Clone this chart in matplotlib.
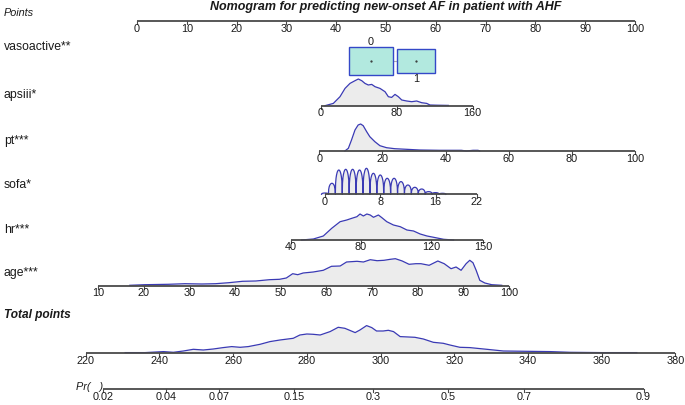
import numpy as np
import matplotlib
matplotlib.use('Agg')
import matplotlib.pyplot as plt
from matplotlib.patches import Rectangle

plt.rcParams['font.family'] = ['Liberation Sans', 'DejaVu Sans']

title = 'Nomogram for predicting new-onset AF in patient with AHF'

# the 0-100 "Points" scale, placed on the page (pixel x of 0 and px per point)
PX0 = 137.0
PX_PER_PT = 4.98

points_ticks = list(range(0, 101, 10))

# vasoactive: categorical, box size ~ frequency
vaso_levels = ['0', '1']
vaso_points = [46.95, 56.02]
vaso_freq = [0.576, 0.424]

# continuous predictors: ticks, points at first/last tick, density
apsiii_ticks = [0, 80, 160]
apsiii_pts = (36.89, 67.41)
apsiii_vals = [4.5, 13.3, 20.3, 25.6, 30.8, 36.1, 39.6, 43.2, 46.6, 50.1, 53.7, 57.2, 62.4, 67.7,
               71.2, 74.7, 78.2, 81.7, 85.3, 90.5, 95.8, 101.0, 106.3, 111.6, 115.0, 122.1, 134.3]
apsiii_dens = [0, 2.3, 9, 17.3, 22.3, 25, 26.7, 25, 22.3, 20.7, 21.3, 19, 17.3, 14,
               9, 8.3, 11.3, 9, 5.7, 4.7, 4, 4.7, 3, 2.3, 0.7, 0.5, 0.3]

pt_ticks = [0, 20, 40, 60, 80, 100]
pt_pts = (36.61, 100.0)
pt_vals = [8.1, 9.2, 10.2, 11.3, 12.3, 13.1, 13.9, 15.0, 16.0, 17.6, 19.2, 21.3, 23.9, 27.6,
           31.8, 38.1, 45.0, 46.6, 48.7, 50.3, 50.8]
pt_dens = [0, 2.7, 11, 21, 26, 27, 25.3, 19.3, 14.3, 9.3, 5.3, 3.3, 2.3, 1.7,
           1, 0.7, 0.7, 0, 0.7, 0.7, 0]

sofa_ticks = [0, 8, 16, 22]
sofa_pts = (37.75, 68.27)
sofa_levels = list(range(0, 18))
sofa_dens = [1.3, 11, 24.3, 25, 25, 24.3, 26, 21, 19.3, 16, 16, 12.7, 9.3, 7, 5.3, 2.7, 1.7, 1]

hr_ticks = [40, 80, 120, 150]
hr_pts = (30.92, 69.54)
hr_vals = [46.1, 52.8, 58.5, 63.3, 68.1, 71.9, 74.8, 77.7, 79.5, 81.4, 83.4, 85.3, 87.2, 90.0,
           92.0, 94.8, 98.6, 102.5, 106.3, 110.1, 113.9, 117.8, 121.6, 127.3, 133.0]
hr_dens = [0, 1, 4, 11.7, 18.3, 20, 21.7, 23.3, 26, 24, 26, 25, 22.7, 25,
           22.3, 18.3, 15, 13.3, 10, 9, 6, 4, 2.7, 0.7, 0]

age_ticks = list(range(10, 101, 10))
age_pts = (-7.77, 74.70)
age_vals = [16.9, 20.2, 25.3, 29.0, 32.7, 35.7, 38.6, 41.6, 44.5, 47.5, 49.7, 51.2, 52.6, 53.7,
            54.9, 57.1, 59.3, 61.1, 63.0, 64.4, 66.7, 68.1, 69.6, 71.1, 72.6, 74.0, 75.1, 76.6,
            78.1, 79.6, 80.7, 82.5, 84.4, 85.8, 87.3, 88.4, 89.5, 90.6, 91.4, 92.1, 92.8, 93.6,
            94.7, 96.2, 98.4]
age_dens = [0.7, 1.3, 1.7, 2.3, 2, 2.3, 3.3, 4.7, 5, 6.3, 6.7, 8, 12.3, 11.3,
            13, 14, 15.7, 19.7, 20, 24, 24.7, 24, 26.3, 25.3, 25.7, 26.7, 27.3, 25,
            21.7, 22.3, 22.3, 20.7, 25, 22.3, 17.3, 19, 15.7, 22.3, 25.7, 23.3, 15.7, 5.7,
            3, 1.3, 0.7]

total_ticks = list(range(220, 381, 20))
total_pts = (-10.30, 108.13)
total_vals = [230.7, 236.1, 241.1, 243.8, 246.5, 249.2, 251.9, 254.6, 257.3, 259.6, 261.9, 264.1,
              267.3, 270.0, 272.7, 276.3, 278.1, 280.0, 281.7, 283.6, 286.3, 288.5, 290.3, 293.1,
              294.4, 296.2, 297.6, 298.9, 300.7, 302.1, 303.5, 305.3, 309.3, 311.6, 314.3, 317.0,
              318.8, 321.5, 324.2, 328.8, 333.3, 346.0, 351.4, 360.0, 363.1, 369.5]
total_dens = [0.7, 0.7, 1.7, 1, 2.3, 4, 3.3, 4.3, 5.7, 6.7, 6, 6.7,
              9, 11.7, 13.3, 15, 18.3, 19.3, 19, 18.3, 21.7, 26, 25, 20.7,
              23.3, 27.7, 25.7, 22.3, 22.3, 23, 21.7, 16.7, 16, 14.3, 11, 10,
              8.3, 6, 5.7, 4, 2.3, 1.7, 1, 0.7, 0.7, 0.7]

# probability: logit is linear in total points
pr_ticks = [0.02, 0.04, 0.07, 0.15, 0.3, 0.5, 0.7, 0.9]
pr_mid_total = 318.4     # total points at Pr = 0.5
pr_total_per_logit = 24.09

BLUE = '#3a3ab4'
FILL = '#ececec'
AXC = '#4a4a4a'
TXT = '#1a1a1a'
TICK_FS = 7.8
LAB_FS = 8.8


def lin(v0, v1, p0, p1):
    return lambda v: p0 + (np.asarray(v, float) - v0) * (p1 - p0) / (v1 - v0)


def draw_axis(ax, ticks, to_pts, base, labels=None):
    xs = to_pts(ticks)
    if labels is None:
        labels = [str(t) for t in ticks]
    ax.plot([xs[0], xs[-1]], [base, base], color=AXC, lw=1.3, solid_capstyle='butt', zorder=3)
    for x, lab in zip(xs, labels):
        ax.plot([x, x], [base, base + 3], color=AXC, lw=0.8, zorder=3)
        ax.text(x, base + 2.5, lab, ha='center', va='top', fontsize=TICK_FS, color=TXT)


def draw_density(ax, vals, dens, to_pts, base):
    xs = to_pts(vals)
    ys = base - np.asarray(dens, float)
    ax.fill_between(xs, base, ys, color=FILL, lw=0, zorder=1)
    ax.plot(xs, ys, color=BLUE, lw=0.9, zorder=2)


def row_label(ax, y, text, **kw):
    ax.text(4 / 685, y, text, transform=ax.get_yaxis_transform(), ha='left', va='center',
            color=TXT, **kw)


fig = plt.figure(figsize=(6.85, 4.05), dpi=100)
ax = fig.add_axes([0, 0, 1, 1])
ax.set_xlim(-PX0 / PX_PER_PT, (685 - PX0) / PX_PER_PT)
ax.set_ylim(405, 0)
ax.axis('off')

ax.text(50, 7, title, ha='center', va='center', fontsize=9.0, fontweight='bold',
        fontstyle='italic', color=TXT)

# Points
row_label(ax, 13, 'Points', fontsize=7.8, fontstyle='italic')
draw_axis(ax, points_ticks, lambda v: np.asarray(v, float), 21)

# vasoactive
row_label(ax, 47, 'vasoactive**', fontsize=LAB_FS)
yc = 61
ax.plot(vaso_points, [yc, yc], color='#b0b0b0', lw=0.8, zorder=1)
for i, (lev, p, f) in enumerate(zip(vaso_levels, vaso_points, vaso_freq)):
    w = 57.6 * np.sqrt(f) / PX_PER_PT
    h = 36.5 * np.sqrt(f)
    ax.add_patch(Rectangle((p - w / 2, yc - h / 2), w, h, facecolor='#b2e9df',
                           edgecolor='#3448c8', lw=1.0, zorder=2))
    ax.plot(p, yc, marker='.', ms=1.2, color='#333333', zorder=3)
    if i == 0:
        ax.text(p, yc - h / 2 - 0.5, lev, ha='center', va='bottom', fontsize=TICK_FS, color=TXT)
    else:
        ax.text(p, yc + h / 2 + 1, lev, ha='center', va='top', fontsize=TICK_FS, color=TXT)

# apsiii
row_label(ax, 95, 'apsiii*', fontsize=LAB_FS)
f_aps = lin(apsiii_ticks[0], apsiii_ticks[-1], *apsiii_pts)
draw_density(ax, apsiii_vals, apsiii_dens, f_aps, 105.7)
draw_axis(ax, apsiii_ticks, f_aps, 105.7)

# pt
row_label(ax, 141, 'pt***', fontsize=LAB_FS)
f_pt = lin(pt_ticks[0], pt_ticks[-1], *pt_pts)
draw_density(ax, pt_vals, pt_dens, f_pt, 151)
draw_axis(ax, pt_ticks, f_pt, 151)

# sofa (integer valued -> one arch per level)
row_label(ax, 185, 'sofa*', fontsize=LAB_FS)
f_sofa = lin(sofa_ticks[0], sofa_ticks[-1], *sofa_pts)
base = 194.3
d = np.linspace(-0.5, 0.5, 31)
arch = (1 - (2 * d) ** 2) ** 0.4
sx, sy = [], []
for k, hgt in zip(sofa_levels, sofa_dens):
    sx.extend(k + d)
    sy.extend(hgt * arch)
sx = f_sofa(sx)
sy = base - np.asarray(sy)
ax.fill_between(sx, base, sy, color=FILL, lw=0, zorder=1)
ax.plot(sx, sy, color=BLUE, lw=0.9, zorder=2)
draw_axis(ax, sofa_ticks, f_sofa, base)

# hr
row_label(ax, 230, 'hr***', fontsize=LAB_FS)
f_hr = lin(hr_ticks[0], hr_ticks[-1], *hr_pts)
draw_density(ax, hr_vals, hr_dens, f_hr, 240)
draw_axis(ax, hr_ticks, f_hr, 240)

# age
row_label(ax, 273, 'age***', fontsize=LAB_FS)
f_age = lin(age_ticks[0], age_ticks[-1], *age_pts)
draw_density(ax, age_vals, age_dens, f_age, 286)
draw_axis(ax, age_ticks, f_age, 286)

# Total points
row_label(ax, 315, 'Total points', fontsize=8.6, fontweight='bold', fontstyle='italic')
f_tot = lin(total_ticks[0], total_ticks[-1], *total_pts)
draw_density(ax, total_vals, total_dens, f_tot, 353.3)
draw_axis(ax, total_ticks, f_tot, 353.3)

# Pr( )
f_pr = lambda p: f_tot(pr_mid_total + pr_total_per_logit * np.log(np.asarray(p) / (1 - np.asarray(p))))
draw_axis(ax, pr_ticks, f_pr, 389.3, labels=[str(p) for p in pr_ticks])
ax.text((76 - PX0) / PX_PER_PT, 386.5, 'Pr(   )', ha='left', va='center', fontsize=7.8,
        fontstyle='italic', color=TXT)

fig.savefig('out.png', dpi=100)
